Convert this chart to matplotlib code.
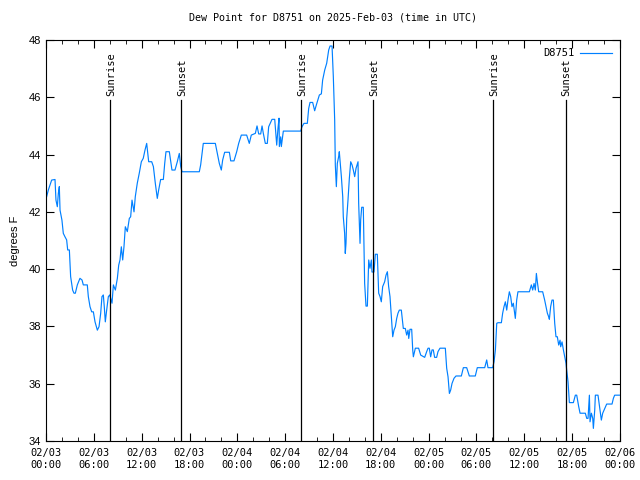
import matplotlib
matplotlib.use("Agg")
import matplotlib.pyplot as plt
import numpy as np

# hours since 2025-02-03 00:00 UTC, dew point (F)
hours = [0.08, 0.29, 0.71, 1.13, 1.25, 1.42, 1.55, 1.67, 1.76, 2.0, 2.17, 2.38, 2.59, 2.72, 2.93,
         3.09, 3.34, 3.51, 3.68, 3.93, 4.26, 4.52, 4.68, 5.18, 5.31, 5.52, 5.73, 5.94, 6.15, 6.44,
         6.65, 6.86, 7.02, 7.19, 7.31, 7.44, 7.61, 7.82, 8.0, 8.28, 8.45, 8.70, 8.95, 9.12, 9.28,
         9.45, 9.62, 9.78, 9.95, 10.2, 10.45, 10.62, 10.79, 11.04, 11.2, 11.45, 11.7, 11.96, 12.2,
         12.42, 12.63, 12.88, 13.26, 13.47, 13.71, 13.96, 14.13, 14.38, 14.72, 14.89, 15.05, 15.47,
         15.68, 15.8, 16.18, 16.47, 16.72, 16.9, 17.06, 19.23, 19.4, 19.57, 19.73, 21.24, 21.49,
         21.74, 21.99, 22.16, 22.41, 23.0, 23.17, 23.58, 23.92, 24.17, 24.5, 25.17, 25.5, 25.75,
         26.26, 26.47, 26.68, 26.93, 27.1, 27.26, 27.51, 27.76, 27.93, 28.35, 28.69, 28.94, 29.1,
         29.23, 29.27, 29.44, 29.52, 29.77, 31.95, 32.11, 32.36, 32.78, 32.95, 33.12, 33.45, 33.7,
         33.95, 34.29, 34.54, 34.7, 34.96, 35.21, 35.46, 35.63, 35.88, 36.04, 36.21, 36.29, 36.42,
         36.54, 36.71, 36.79, 36.88, 37.05, 37.22, 37.29, 37.46, 37.54, 37.63, 37.72, 37.88, 38.05,
         38.22, 38.39, 38.55, 38.72, 38.89, 39.14, 39.22, 39.39, 39.47, 39.6, 39.8, 39.97, 40.14,
         40.31, 40.48, 40.64, 40.81, 40.89, 41.14, 41.31, 41.56, 41.73, 41.9, 42.06, 42.23, 42.48,
         42.65, 42.82, 42.98, 43.15, 43.32, 43.49, 43.65, 43.82, 43.99, 44.15, 44.32, 44.57, 44.82,
         45.07, 45.24, 45.41, 45.5, 45.66, 45.87, 46.0, 46.08, 46.33, 46.74, 47.0, 47.5, 47.75,
         47.92, 48.08, 48.25, 48.42, 48.58, 48.75, 49.0, 49.17, 49.42, 50.09, 50.26, 50.43, 50.6,
         50.76, 50.93, 51.18, 51.43, 52.1, 52.35, 52.77, 53.1, 53.85, 54.1, 55.03, 55.28, 55.44,
         56.03, 56.2, 56.37, 56.54, 56.7, 57.12, 57.28, 57.45, 57.62, 57.79, 57.95, 58.12, 58.29,
         58.45, 58.62, 58.79, 58.87, 59.04, 59.2, 60.63, 60.88, 61.05, 61.22, 61.38, 61.51, 61.63,
         61.8, 62.3, 62.55, 62.72, 62.89, 63.05, 63.14, 63.3, 63.47, 63.64, 63.81, 63.97, 64.14,
         64.31, 64.48, 64.56, 64.73, 64.9, 65.07, 65.23, 65.31, 65.48, 65.65, 66.15, 66.4, 66.57,
         66.82, 66.99, 67.65, 67.83, 67.99, 68.16, 68.24, 68.41, 68.58, 68.66, 68.83, 68.91, 69.24,
         69.49, 69.66, 69.83, 70.0, 70.33, 71.0, 71.17, 71.33, 71.92]
dewpt = [42.53, 42.76, 43.11, 43.13, 42.41, 42.18, 42.65, 42.88, 42.06, 41.71, 41.25, 41.13, 41.02,
         40.67, 40.67, 39.74, 39.27, 39.16, 39.16, 39.45, 39.68, 39.62, 39.45, 39.45, 39.04, 38.69,
         38.51, 38.51, 38.16, 37.87, 37.99, 38.46, 39.04, 39.10, 38.69, 38.16, 38.57, 39.04, 39.10,
         38.81, 39.45, 39.27, 39.68, 40.14, 40.32, 40.78, 40.32, 40.78, 41.48, 41.31, 41.77, 41.83,
         42.41, 42.0, 42.53, 43.0, 43.35, 43.75, 43.87, 44.16, 44.39, 43.75, 43.75, 43.58, 43.0,
         42.47, 42.76, 43.13, 43.13, 43.69, 44.10, 44.10, 43.69, 43.46, 43.46, 43.75, 44.04, 43.58,
         43.4, 43.4, 43.64, 44.04, 44.39, 44.39, 44.04, 43.69, 43.46, 43.81, 44.08, 44.08, 43.78,
         43.78, 44.10, 44.39, 44.68, 44.68, 44.39, 44.68, 44.74, 45.0, 44.72, 44.72, 45.0, 44.74,
         44.39, 44.39, 44.97, 45.23, 45.23, 44.33, 44.92, 45.27, 44.28, 44.62, 44.28, 44.82, 44.82,
         44.97, 45.09, 45.09, 45.61, 45.82, 45.82, 45.53, 45.77, 46.08, 46.12, 46.6, 46.95, 47.19,
         47.65, 47.79, 47.79, 46.72, 45.21, 43.64, 42.88, 43.69, 43.93, 44.10, 43.81, 43.23, 42.53,
         41.83, 41.25, 40.55, 40.9, 41.77, 42.41, 43.17, 43.75, 43.64, 43.46, 43.23, 43.52, 43.75,
         42.3, 40.9, 41.71, 42.16, 42.16, 39.5, 38.71, 38.71, 40.32, 40.03, 40.32, 39.9, 39.9, 40.52,
         40.52, 39.16, 39.04, 38.86, 39.39, 39.56, 39.79, 39.91, 39.39, 39.04, 38.34, 37.64, 37.87,
         37.99, 38.28, 38.46, 38.57, 38.57, 37.93, 37.93, 37.7, 37.87, 37.58, 37.9, 37.9, 37.18,
         36.94, 37.24, 37.24, 37.0, 36.92, 37.12, 37.24, 37.24, 36.94, 37.18, 37.18, 36.92, 36.92,
         37.12, 37.24, 37.24, 36.54, 36.24, 35.66, 35.78, 36.01, 36.19, 36.27, 36.27, 36.56, 36.56,
         36.27, 36.27, 36.56, 36.56, 36.83, 36.56, 36.56, 36.77, 37.18, 38.11, 38.13, 38.13, 38.46,
         38.69, 38.86, 38.57, 38.92, 39.21, 39.04, 38.69, 38.81, 38.46, 38.28, 38.92, 39.21, 39.21,
         39.45, 39.27, 39.5, 39.27, 39.85, 39.56, 39.21, 39.21, 38.92, 38.69, 38.46, 38.34, 38.25,
         38.69, 38.92, 38.92, 38.11, 37.64, 37.64, 37.35, 37.52, 37.29, 37.46, 37.18, 36.94, 36.71,
         36.48, 36.07, 35.34, 35.34, 35.6, 35.6, 35.2, 34.97, 34.97, 34.79, 34.79, 35.6, 34.67,
         34.97, 34.79, 34.44, 35.08, 35.6, 35.6, 35.08, 34.73, 34.97, 35.08, 35.29, 35.29, 35.49,
         35.6, 35.6]

sun_hours = [8.07, 16.97, 32.03, 41.06, 56.1, 65.19]
sun_labels = ["Sunrise", "Sunset", "Sunrise", "Sunset", "Sunrise", "Sunset"]

tick_labels = ["02/03\n00:00", "02/03\n06:00", "02/03\n12:00", "02/03\n18:00",
               "02/04\n00:00", "02/04\n06:00", "02/04\n12:00", "02/04\n18:00",
               "02/05\n00:00", "02/05\n06:00", "02/05\n12:00", "02/05\n18:00",
               "02/06\n00:00"]

mono = "DejaVu Sans Mono"

fig = plt.figure(figsize=(6.4, 4.8), dpi=100)
ax = fig.add_axes([46 / 640, 1 - 441 / 480, 574 / 640, 401 / 480])

ax.plot(hours, dewpt, color="#0080ff", lw=0.85, label="D8751")

for t, lab in zip(sun_hours, sun_labels):
    ax.plot([t, t], [34, 45.9], color="black", lw=0.9)
    ax.text(t + 0.1, 46.05, lab, rotation=90, ha="center", va="bottom",
            fontsize=7.5, family=mono)

ax.set_xlim(0, 72)
ax.set_ylim(34, 48)
ax.set_xticks(np.arange(0, 73, 6))
ax.set_xticks(np.arange(0, 73, 2), minor=True)
ax.set_xticklabels(tick_labels, family=mono, fontsize=7.5)
ax.set_yticks(np.arange(34, 49, 2))
ax.tick_params(axis="both", which="both", direction="in", top=True, right=True)
ax.tick_params(axis="x", which="major", length=6, pad=5)
ax.tick_params(axis="x", which="minor", length=3)
ax.tick_params(axis="y", length=6, labelsize=8)
for lbl in ax.get_yticklabels():
    lbl.set_family("Liberation Sans")

ax.set_ylabel("degrees F", family="Liberation Sans", fontsize=8, labelpad=6)
ax.set_title("Dew Point for D8751 on 2025-Feb-03 (time in UTC)", family=mono,
             fontsize=7.2, pad=14)

ax.legend(loc="upper right", frameon=False, markerfirst=False, handlelength=3.0,
          prop={"family": mono, "size": 7.5}, borderaxespad=0.4, handletextpad=0.6)

fig.savefig("out.png", dpi=100)
